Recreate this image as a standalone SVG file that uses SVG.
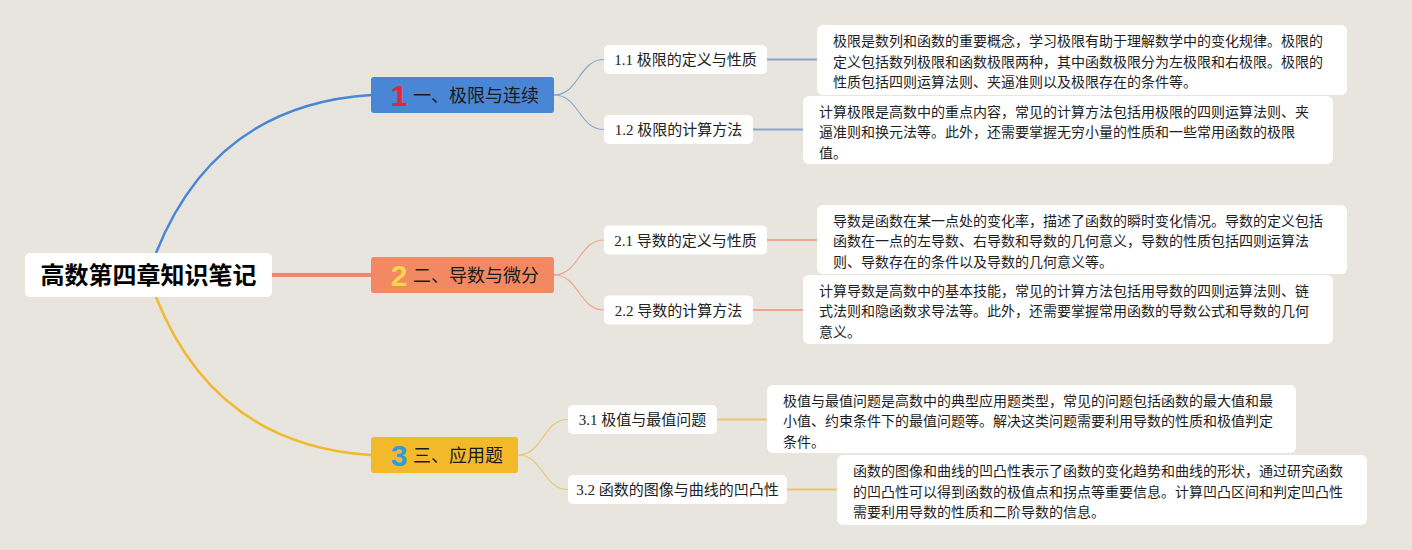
<svg xmlns="http://www.w3.org/2000/svg" width="1412" height="550" viewBox="0 0 1412 550">
<style>
.bg{fill:#e8e5de}
.card{fill:#ffffff}
.desc{font-family:"Noto Sans CJK SC","Liberation Sans",sans-serif;font-size:14px;fill:#1e1e1e}
.sub{font-family:"Liberation Serif","Noto Sans CJK SC",serif;font-size:15px;fill:#222;text-anchor:middle}
.main{font-family:"Noto Sans CJK SC","Liberation Sans",sans-serif;font-size:18px;fill:#1a1a1a}
.num{font-family:"Liberation Sans","DejaVu Sans",sans-serif;font-size:30px;font-weight:bold;text-anchor:middle}
.root{font-family:"Noto Sans CJK SC","Liberation Sans",sans-serif;font-size:24px;font-weight:bold;fill:#000;text-anchor:middle}
.c1{stroke:#4a86d6;fill:none}
.c2{stroke:#f08a66;fill:none}
.c3{stroke:#f1ba2e;fill:none}
.l1{stroke:#88a6d0;fill:none}
.l2{stroke:#eda68e;fill:none}
.l3{stroke:#ebc56e;fill:none}
</style>
<rect class="bg" x="0" y="0" width="1412" height="550"/>
<g id="connectors">
<path class="c1" stroke-width="2.5" d="M156,253 Q215,105 371,95"/>
<path class="c2" stroke-width="4" d="M272,275 L371,275"/>
<path class="c3" stroke-width="2.5" d="M156,297 Q215,445 371,455"/>
<path class="l1" stroke-width="1.2" d="M554,95 C579,95 579,59.5 604,59.5"/>
<path class="l1" stroke-width="1.2" d="M554,95 C579,95 579,129.5 604,129.5"/>
<path class="l2" stroke-width="1.2" d="M554,275 C579,275 579,240 604,240"/>
<path class="l2" stroke-width="1.2" d="M554,275 C579,275 579,310 604,310"/>
<path class="l3" stroke-width="1.2" d="M518,455 C543,455 543,419.5 568,419.5"/>
<path class="l3" stroke-width="1.2" d="M518,455 C543,455 543,489.5 568,489.5"/>
<path class="l1" stroke-width="2" d="M767,59.5 L817,59.5"/>
<path class="l1" stroke-width="2" d="M753,129.5 L803,129.5"/>
<path class="l2" stroke-width="2" d="M767,240 L817,240"/>
<path class="l2" stroke-width="2" d="M753,310 L803,310"/>
<path class="l3" stroke-width="2" d="M717,419.5 L767,419.5"/>
<path class="l3" stroke-width="2" d="M787,489.5 L837,489.5"/>
</g>
<g id="root">
<rect class="card" x="25" y="253" width="247" height="44" rx="5"/>
<text class="root" x="148.5" y="284">高数第四章知识笔记</text>
</g>
<g id="branch1">
<rect x="371" y="77" width="183" height="36" rx="3" fill="#4a86d6"/>
<text class="num" x="399" y="106" fill="#e3262f">1</text>
<text class="main" x="413" y="101.5">一、极限与连续</text>
</g>
<g id="branch2">
<rect x="371" y="257" width="183" height="36" rx="3" fill="#f28963"/>
<text class="num" x="399" y="286" fill="#f7d44c">2</text>
<text class="main" x="413" y="281.5">二、导数与微分</text>
</g>
<g id="branch3">
<rect x="371" y="437" width="147" height="36" rx="3" fill="#f2b92b"/>
<text class="num" x="399" y="466" fill="#2d9be0">3</text>
<text class="main" x="413" y="461.5">三、应用题</text>
</g>
<g id="sub11">
<rect class="card" x="604" y="45" width="163" height="29" rx="5"/>
<text class="sub" x="685.5" y="65">1.1 极限的定义与性质</text>
</g>
<g id="sub12">
<rect class="card" x="604" y="115" width="149" height="29" rx="5"/>
<text class="sub" x="678.5" y="135">1.2 极限的计算方法</text>
</g>
<g id="sub21">
<rect class="card" x="604" y="225.5" width="163" height="29" rx="5"/>
<text class="sub" x="685.5" y="245.5">2.1 导数的定义与性质</text>
</g>
<g id="sub22">
<rect class="card" x="604" y="295.5" width="149" height="29" rx="5"/>
<text class="sub" x="678.5" y="315.5">2.2 导数的计算方法</text>
</g>
<g id="sub31">
<rect class="card" x="568" y="405" width="149" height="29" rx="5"/>
<text class="sub" x="642.5" y="425">3.1 极值与最值问题</text>
</g>
<g id="sub32">
<rect class="card" x="568" y="475" width="219" height="29" rx="5"/>
<text class="sub" x="677.5" y="495">3.2 函数的图像与曲线的凹凸性</text>
</g>
<g id="desc11">
<rect class="card" x="817" y="25" width="530" height="70" rx="6"/>
<text class="desc" x="833" y="46">极限是数列和函数的重要概念，学习极限有助于理解数学中的变化规律。极限的</text>
<text class="desc" x="833" y="66.5">定义包括数列极限和函数极限两种，其中函数极限分为左极限和右极限。极限的</text>
<text class="desc" x="833" y="87">性质包括四则运算法则、夹逼准则以及极限存在的条件等。</text>
</g>
<g id="desc12">
<rect class="card" x="803" y="96" width="530" height="68" rx="6"/>
<text class="desc" x="819" y="116.5">计算极限是高数中的重点内容，常见的计算方法包括用极限的四则运算法则、夹</text>
<text class="desc" x="819" y="137">逼准则和换元法等。此外，还需要掌握无穷小量的性质和一些常用函数的极限</text>
<text class="desc" x="819" y="157.5">值。</text>
</g>
<g id="desc21">
<rect class="card" x="817" y="205" width="530" height="69" rx="6"/>
<text class="desc" x="833" y="225.5">导数是函数在某一点处的变化率，描述了函数的瞬时变化情况。导数的定义包括</text>
<text class="desc" x="833" y="246">函数在一点的左导数、右导数和导数的几何意义，导数的性质包括四则运算法</text>
<text class="desc" x="833" y="266.5">则、导数存在的条件以及导数的几何意义等。</text>
</g>
<g id="desc22">
<rect class="card" x="803" y="275" width="530" height="69" rx="6"/>
<text class="desc" x="819" y="295.5">计算导数是高数中的基本技能，常见的计算方法包括用导数的四则运算法则、链</text>
<text class="desc" x="819" y="316">式法则和隐函数求导法等。此外，还需要掌握常用函数的导数公式和导数的几何</text>
<text class="desc" x="819" y="336.5">意义。</text>
</g>
<g id="desc31">
<rect class="card" x="767" y="385" width="529" height="68" rx="6"/>
<text class="desc" x="783" y="405.5">极值与最值问题是高数中的典型应用题类型，常见的问题包括函数的最大值和最</text>
<text class="desc" x="783" y="426">小值、约束条件下的最值问题等。解决这类问题需要利用导数的性质和极值判定</text>
<text class="desc" x="783" y="446.5">条件。</text>
</g>
<g id="desc32">
<rect class="card" x="837" y="455" width="530" height="70" rx="6"/>
<text class="desc" x="853" y="476">函数的图像和曲线的凹凸性表示了函数的变化趋势和曲线的形状，通过研究函数</text>
<text class="desc" x="853" y="496.5">的凹凸性可以得到函数的极值点和拐点等重要信息。计算凹凸区间和判定凹凸性</text>
<text class="desc" x="853" y="517">需要利用导数的性质和二阶导数的信息。</text>
</g>
</svg>
